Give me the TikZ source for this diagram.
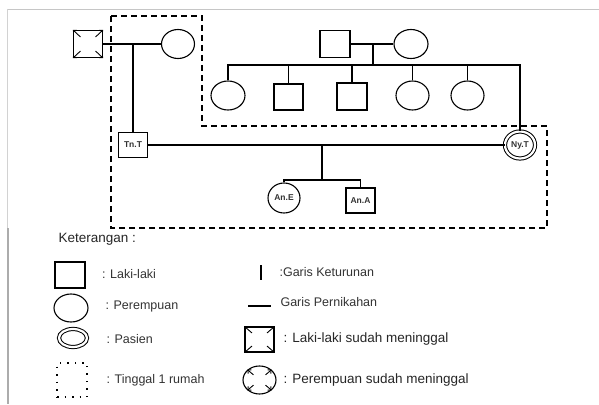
\documentclass[tikz,border=0pt]{standalone}
\usepackage{fontspec}
\setmainfont{Liberation Sans}
\usetikzlibrary{shapes.geometric,arrows.meta,calc}
\newcommand\deadmarks[1]{\foreach \a in {north west,north east,south west,south east}{\draw[line width=0.9pt,-{Straight Barb[length=2.5pt,width=5pt]}] ($(#1.center)!0.5!(#1.\a)$) -- (#1.\a);}}
\begin{document}
\begin{tikzpicture}[x=1pt,y=-1pt,
  line width=1.1pt,
  male/.style={draw, line width=1.1pt, inner sep=0pt, minimum width=29pt, minimum height=27pt, font=\bfseries\fontsize{8.5}{9}\selectfont, text=black!80},
  female/.style={ellipse, draw, line width=1.1pt, inner sep=0pt, minimum width=33pt, minimum height=29pt, font=\bfseries\fontsize{8.5}{9}\selectfont, text=black!80},
  patient/.style={ellipse, draw, double, double distance=2.2pt, line width=1pt, inner sep=0pt, minimum width=30pt, minimum height=27pt, font=\bfseries\fontsize{8.5}{9}\selectfont, text=black!80},
  house/.style={line width=1.3pt, dash pattern=on 6pt off 4pt},
  legtext/.style={anchor=west, inner sep=0pt, text=black!80, font=\fontsize{12.5}{14}\selectfont},
  legbig/.style={anchor=west, inner sep=0pt, text=black!85, font=\fontsize{13.5}{15}\selectfont}
]
\useasboundingbox (0,0) rectangle (599,404);
\fill[white] (0,0) rectangle (599,404);
% frame
\draw[gray!45, line width=0.8pt] (7,9) -- (599,9);
\draw[gray!35, line width=0.8pt] (7,9) -- (7,228);
\draw[gray!65, line width=2pt] (8,228) -- (8,404);

% household box
\draw[house] (111,16) -- (202,16) -- (202,126) -- (547,126) -- (547,228) -- (111,228) -- cycle;

% generation 1 (left)
\node[male] (gf) at (88,44) {};
\deadmarks{gf}
\node[female] (gm) at (178,44) {};
\draw (gf.east) -- (gm.west);
\coordinate (m1) at (133,44);
\node[male, minimum height=25pt] (tn) at (133,145) {Tn.T};
\draw (m1) -- (tn.north);

% generation 1 (right)
\node[male, minimum width=30pt] (gf2) at (335,44) {};
\node[female, minimum width=34pt] (gm2) at (411,44) {};
\draw (gf2.east) -- (gm2.west);
\coordinate (d2) at (373,44);
\coordinate (s) at (373,65);
\draw (d2) -- (s);

\node[female, minimum width=34pt] (c1) at (228,95.5) {};
\node[male, minimum height=26pt] (c2) at (288.5,97) {};
\node[male, minimum width=30pt] (c3) at (352,96.5) {};
\node[female] (c4) at (412.5,95.5) {};
\node[female] (c5) at (467.5,95.5) {};
\node[patient] (ny) at (520,145) {Ny.T};

\draw (c1.north) -- (c1.north |- s) -- (ny.north |- s) -- (ny.north);
\draw (c2.north) -- (c2.north |- s);
\draw (c3.north) -- (c3.north |- s);
\draw (c4.north) -- (c4.north |- s);
\draw (c5.north) -- (c5.north |- s);

% marriage Tn.T - Ny.T
\draw (tn.east) -- (ny.west);
\coordinate (d3) at (322,145);
\coordinate (k) at (322,180);
\draw (d3) -- (k);
\node[female, minimum width=32pt, minimum height=30pt] (ane) at (284,198) {An.E};
\node[male, minimum height=25pt] (ana) at (360.5,200.5) {An.A};
\draw (ane.north) -- (ane.north |- k) -- (ana.north |- k) -- (ana.north);

% legend
\node[legbig] (ket) at (58,239) {Keterangan :};

\node[male, minimum width=30pt, minimum height=26pt] (lm) at (70,275) {};
\node[legtext] (tlm) at (101.5,274) {: Laki-laki};
\node[female, minimum width=34pt, minimum height=28pt] (lf) at (71,308) {};
\node[legtext] (tlf) at (105,306) {: Perempuan};
\node[patient, minimum width=28pt, minimum height=18pt] (lp) at (73,338) {};
\node[legtext] (tlp) at (106,339) {: Pasien};
\node[draw, line width=1.2pt, dash pattern=on 1.5pt off 6pt, inner sep=0pt, minimum width=30pt, minimum height=34pt] (lh) at (72,380) {};
\node[legtext] (tlh) at (106,380) {: Tinggal 1 rumah};

\coordinate (vb1) at (261,265);
\coordinate (vb2) at (261,280);
\draw[line width=1.2pt] (vb1) -- (vb2);
\node[legtext] (tvb) at (279,272) {:Garis Keturunan};
\coordinate (hb1) at (248,306);
\coordinate (hb2) at (271,306);
\draw[line width=1.2pt] (hb1) -- (hb2);
\node[legtext] (thb) at (280,302) {Garis Pernikahan};
\node[male, minimum width=29pt, minimum height=25pt] (ldm) at (259.5,339.5) {};
\deadmarks{ldm}
\node[legbig] (tldm) at (283,339) {: Laki-laki sudah meninggal};
\node[female, minimum width=33pt, minimum height=28pt] (ldf) at (259.5,380) {};
\deadmarks{ldf}
\node[legbig] (tldf) at (283,380) {: Perempuan sudah meninggal};
\end{tikzpicture}
\end{document}
